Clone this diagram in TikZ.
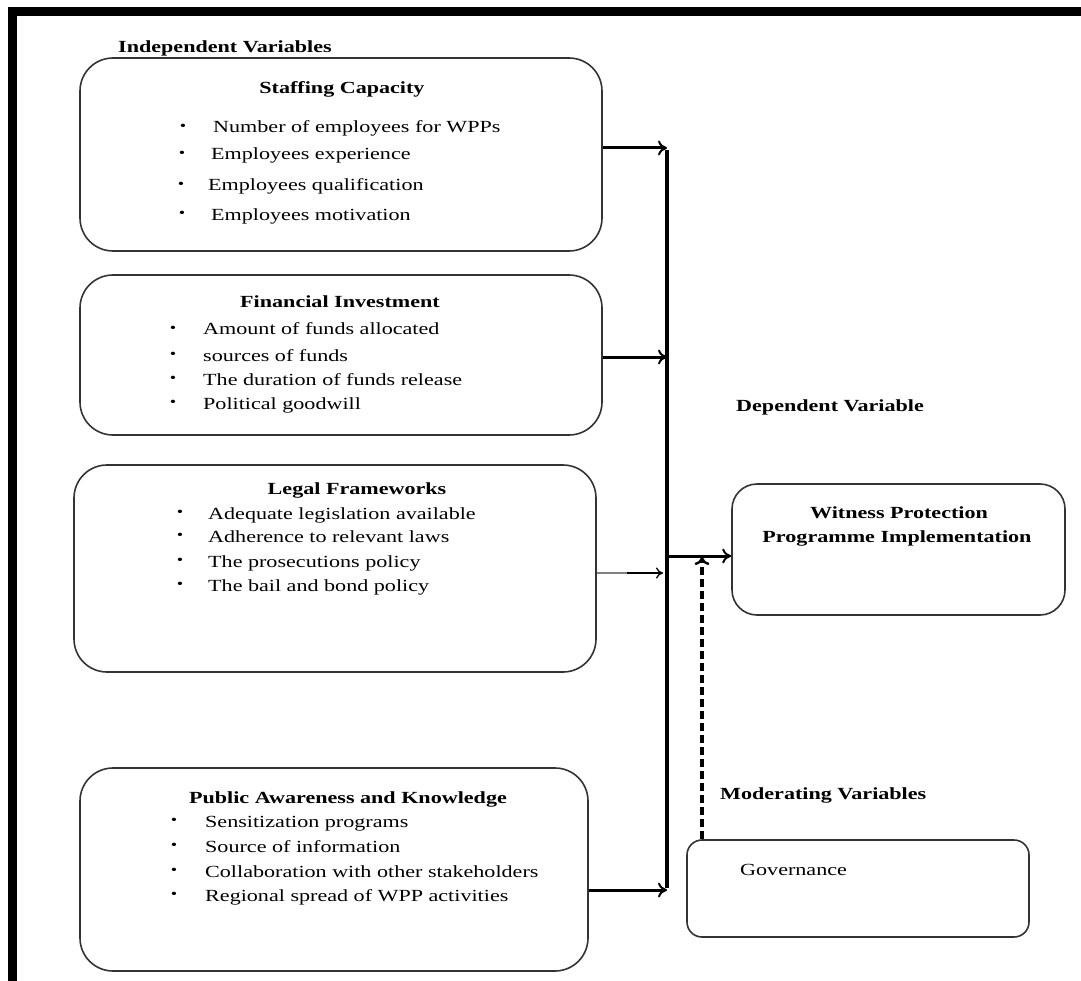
\documentclass[tikz,border=0pt]{standalone}
\usepackage{fontspec}
\setmainfont{Liberation Serif}[FakeStretch=1.3]
\usetikzlibrary{arrows.meta}
\tikzset{
  box/.style={draw=black!80, line width=1.6pt, rounded corners=#1, inner sep=0pt, fill=white},
  box/.default=33pt,
  txt/.style={anchor=base west, inner sep=0pt, font=\fontsize{17}{20}\selectfont},
  ttl/.style={anchor=base, inner sep=0pt, font=\fontsize{17}{20}\selectfont\bfseries},
  lbl/.style={anchor=base west, inner sep=0pt, font=\fontsize{17}{20}\selectfont\bfseries},
  bul/.style={inner sep=0pt, font=\fontsize{14}{14}\selectfont},
  link/.style={line width=3pt, -{To[length=9pt,width=15pt,line width=2pt]}},
  thinlink/.style={line width=1.6pt, -{To[length=7pt,width=11pt,line width=1.3pt]}},
  dashlink/.style={line width=3.2pt, dash pattern=on 8pt off 4pt, -{To[length=8pt,width=15pt,line width=2.4pt]}},
}
\begin{document}
\begin{tikzpicture}[x=1pt,y=-1pt]
\useasboundingbox (0,0) rectangle (1081,981);
% frame bars
\fill[black] (8,7) rectangle (1081,16);
\fill[black] (8,7) rectangle (17,981);

% boxes
\node[box, minimum width=522pt, minimum height=193pt] (b1) at (341,154.5) {};
\node[box, minimum width=522pt, minimum height=160pt] (b2) at (341,355) {};
\node[box, minimum width=522pt, minimum height=207pt] (b3) at (335,568.5) {};
\node[box, minimum width=508pt, minimum height=203pt] (b4) at (334,869.5) {};
\node[box=25pt, minimum width=333pt, minimum height=131pt] (dep) at (898.5,549.5) {};
\node[box=15pt, minimum width=342pt, minimum height=97pt] (gov) at (858,888.5) {};

% labels
\node[lbl] (lind) at (118,53) {Independent Variables};
\node[lbl] (ldep) at (736,411) {Dependent Variable};
\node[lbl] (lmod) at (720,799) {Moderating Variables};

% box 1
\node[ttl] (t1) at (342,94) {Staffing Capacity};
\node[bul] (p1a) at (183,127) {•};
\node[bul] (p1b) at (182,154) {•};
\node[bul] (p1c) at (181,185) {•};
\node[bul] (p1d) at (182,214) {•};
\node[txt] (s1a) at (213,133) {Number of employees for WPPs};
\node[txt] (s1b) at (211,160) {Employees experience};
\node[txt] (s1c) at (208,191) {Employees qualification};
\node[txt] (s1d) at (211,221) {Employees motivation};

% box 2
\node[ttl] (t2) at (340,308) {Financial Investment};
\node[bul] (p2a) at (173,329) {•};
\node[bul] (p2b) at (173,355) {•};
\node[bul] (p2c) at (173,379) {•};
\node[bul] (p2d) at (173,403) {•};
\node[txt] (s2a) at (203,335) {Amount of funds allocated};
\node[txt] (s2b) at (203,361) {sources of funds};
\node[txt] (s2c) at (203,385) {The duration of funds release};
\node[txt] (s2d) at (203,409) {Political goodwill};

% box 3
\node[ttl] (t3) at (357,494) {Legal Frameworks};
\node[bul] (p3a) at (180,513) {•};
\node[bul] (p3b) at (180,536) {•};
\node[bul] (p3c) at (180,561) {•};
\node[bul] (p3d) at (180,585) {•};
\node[txt] (s3a) at (208,519) {Adequate legislation available};
\node[txt] (s3b) at (208,542) {Adherence to relevant laws};
\node[txt] (s3c) at (208,567) {The prosecutions policy};
\node[txt] (s3d) at (208,591) {The bail and bond policy};

% box 4
\node[ttl] (t4) at (348,803) {Public Awareness and Knowledge};
\node[bul] (p4a) at (174,821) {•};
\node[bul] (p4b) at (174,846) {•};
\node[bul] (p4c) at (174,871) {•};
\node[bul] (p4d) at (174,895) {•};
\node[txt] (s4a) at (205,827) {Sensitization programs};
\node[txt] (s4b) at (205,852) {Source of information};
\node[txt] (s4c) at (205,877) {Collaboration with other stakeholders};
\node[txt] (s4d) at (205,901) {Regional spread of WPP activities};

% dependent / moderating texts
\node[ttl] (d1) at (899,518) {Witness Protection};
\node[ttl] (d2) at (897,542) {Programme Implementation};
\node[txt] (g1) at (740,875) {Governance};

% connectors
\coordinate (j1) at (667,148);
\coordinate (j2) at (667,357);
\coordinate (j3) at (663,573);
\coordinate (j4) at (667,890);
\coordinate (jm) at (667,556);
\coordinate (dt) at (702,557);
\draw[line width=3.4pt] ([yshift=-1.7pt]j1) -- ([yshift=1.7pt]j4);
\draw[link] (b1.east |- j1) -- (j1);
\draw[link] (b2.east |- j2) -- (j2);
\draw[thinlink, draw=black] (b3.east |- j3) -- (j3);
\draw[line width=2pt, gray] (b3.east |- j3) -- ++(30,0);
\draw[link] (b4.east |- j4) -- (j4);
\draw[link] (jm) -- (dep.west |- jm);
\draw[dashlink] (gov.north -| dt) -- (dt);
\end{tikzpicture}
\end{document}
